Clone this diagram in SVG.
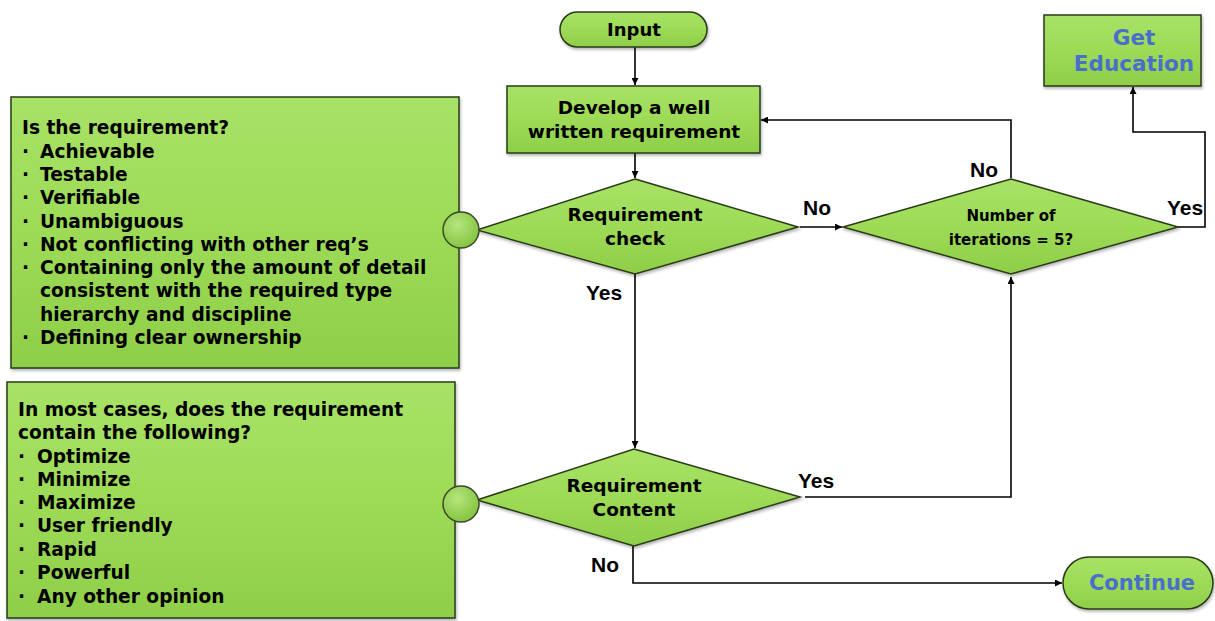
<svg xmlns="http://www.w3.org/2000/svg" width="1215" height="621" viewBox="0 0 1215 621">
<defs>
<linearGradient id="g" x1="0" y1="0" x2="0" y2="1">
<stop offset="0" stop-color="#A8E266"/>
<stop offset="0.5" stop-color="#9DDB57"/>
<stop offset="1" stop-color="#8FCE48"/>
</linearGradient>
<radialGradient id="gc" cx="0.4" cy="0.35" r="0.7">
<stop offset="0" stop-color="#B5E67E"/>
<stop offset="1" stop-color="#82C23D"/>
</radialGradient>
<filter id="sh" x="-10%" y="-10%" width="120%" height="130%">
<feDropShadow dx="1" dy="2" stdDeviation="1.5" flood-color="#000" flood-opacity="0.3"/>
</filter>
<marker id="ah" viewBox="0 0 10 10" refX="10" refY="5" markerWidth="7" markerHeight="7" orient="auto" markerUnits="userSpaceOnUse">
<path d="M0,0 L10,5 L0,10 z" fill="#000"/>
</marker>
</defs>
<style>
.shape{fill:url(#g);stroke:#2a3a18;stroke-width:1.5;filter:url(#sh)}
.circ{fill:url(#gc);stroke:#3a4a28;stroke-width:1.5}
.t{font-family:"DejaVu Sans","Verdana",sans-serif;font-weight:bold;fill:#000}
.c{text-anchor:middle}
.blue{fill:#4A6FCB}
.lab{font-family:"Liberation Sans Narrow","Liberation Sans",Arial,sans-serif;font-weight:bold;font-size:21px;fill:#000}
.ln{fill:none;stroke:#000;stroke-width:1.6}
</style>
<rect width="1215" height="621" fill="#fff"/>

<g id="connectors">
<path class="ln" d="M635,47 V85" marker-end="url(#ah)"/>
<path class="ln" d="M635,153 V178" marker-end="url(#ah)"/>
<path class="ln" d="M800,227 H842" marker-end="url(#ah)"/>
<path class="ln" d="M1011,178 V120 H761" marker-end="url(#ah)"/>
<path class="ln" d="M1178,227 H1205 V132 H1133 V87" marker-end="url(#ah)"/>
<path class="ln" d="M635,274 V448" marker-end="url(#ah)"/>
<path class="ln" d="M805,497 H1011 V277" marker-end="url(#ah)"/>
<path class="ln" d="M633,546 V583 H1062" marker-end="url(#ah)"/>
<text class="lab" x="803" y="215">No</text>
<text class="lab" x="586" y="300">Yes</text>
<text class="lab" x="970" y="177">No</text>
<text class="lab" x="1167" y="215">Yes</text>
<text class="lab" x="798" y="488">Yes</text>
<text class="lab" x="591" y="572">No</text>
</g>

<g id="box-check-list">
<rect class="shape" x="11" y="97" width="448" height="271"/>
<g class="t" font-size="18.6px">
<text x="22" y="134">Is the requirement?</text>
<text x="22" y="158">·</text><text x="40" y="158">Achievable</text>
<text x="22" y="181">·</text><text x="40" y="181">Testable</text>
<text x="22" y="204">·</text><text x="40" y="204">Verifiable</text>
<text x="22" y="228">·</text><text x="40" y="228">Unambiguous</text>
<text x="22" y="251">·</text><text x="40" y="251">Not conflicting with other req’s</text>
<text x="22" y="274">·</text><text x="40" y="274">Containing only the amount of detail</text>
<text x="40" y="297">consistent with the required type</text>
<text x="40" y="321">hierarchy and discipline</text>
<text x="22" y="344">·</text><text x="40" y="344">Defining clear ownership</text>
</g>
</g>

<g id="box-content-list">
<rect class="shape" x="7" y="382" width="448" height="236"/>
<g class="t" font-size="18.6px">
<text x="18" y="416">In most cases, does the requirement</text>
<text x="18" y="439">contain the following?</text>
<text x="18" y="463">·</text><text x="37" y="463">Optimize</text>
<text x="18" y="486">·</text><text x="37" y="486">Minimize</text>
<text x="18" y="509">·</text><text x="37" y="509">Maximize</text>
<text x="18" y="532">·</text><text x="37" y="532">User friendly</text>
<text x="18" y="556">·</text><text x="37" y="556">Rapid</text>
<text x="18" y="579">·</text><text x="37" y="579">Powerful</text>
<text x="18" y="603">·</text><text x="37" y="603">Any other opinion</text>
</g>
</g>

<g id="node-input">
<rect class="shape" x="560" y="12" width="147" height="35" rx="17.5"/>
<text class="t c" font-size="18px" x="634" y="36">Input</text>
</g>

<g id="node-develop">
<rect class="shape" x="507" y="86" width="253" height="67"/>
<text class="t c" font-size="18.5px" x="634" y="114">Develop a well</text>
<text class="t c" font-size="18.5px" x="634" y="138">written requirement</text>
</g>

<g id="node-get-education">
<rect class="shape" x="1044" y="15" width="157" height="71"/>
<text class="t c blue" font-size="21.5px" x="1134" y="45">Get</text>
<text class="t c blue" font-size="21.5px" x="1134" y="71">Education</text>
</g>

<g id="node-req-check">
<polygon class="shape" points="635,179 798,227 635,274 477,230"/>
<circle class="circ" cx="461" cy="230" r="18"/>
<text class="t c" font-size="18.5px" x="635" y="221">Requirement</text>
<text class="t c" font-size="18.5px" x="635" y="245">check</text>
</g>

<g id="node-iterations">
<polygon class="shape" points="1011,179 1178,227 1011,274 843,227"/>
<text class="t c" font-size="15px" x="1011" y="221">Number of</text>
<text class="t c" font-size="15px" x="1011" y="245">iterations = 5?</text>
</g>

<g id="node-req-content">
<polygon class="shape" points="634,449 800,497 634,546 477,500"/>
<circle class="circ" cx="461" cy="504" r="18"/>
<text class="t c" font-size="18.5px" x="634" y="492">Requirement</text>
<text class="t c" font-size="18.5px" x="634" y="516">Content</text>
</g>

<g id="node-continue">
<rect class="shape" x="1063" y="557" width="150" height="52" rx="26"/>
<text class="t c blue" font-size="21px" x="1142" y="590">Continue</text>
</g>
</svg>
